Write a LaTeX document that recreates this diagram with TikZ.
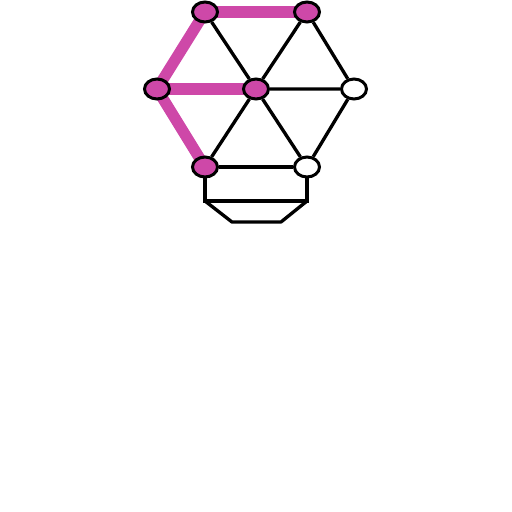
\documentclass[tikz,border=0pt]{standalone}
\usepackage{xcolor}
\usepackage{tikz}
\usetikzlibrary{backgrounds,shapes.geometric}

\definecolor{hilite}{RGB}{206,72,168}

\begin{document}
\begin{tikzpicture}[
    vert/.style={ellipse,draw,line width=1.7pt,minimum width=0.5cm,minimum height=0.4cm,inner sep=0pt},
    on/.style={vert,fill=hilite},
    off/.style={vert,fill=white},
    edge/.style={line width=1.9pt},
    hot/.style={line width=6.4pt,hilite}]
\useasboundingbox (0,0) rectangle (10.24,-10.24);
% the seven vertices
\node[on]  (tl) at (4.10,-0.24) {};
\node[on]  (tr) at (6.14,-0.24) {};
\node[on]  (l)  at (3.14,-1.78) {};
\node[on]  (c)  at (5.12,-1.78) {};
\node[off] (r)  at (7.08,-1.78) {};
\node[on]  (bl) at (4.10,-3.34) {};
\node[off] (br) at (6.14,-3.34) {};
\coordinate (sl) at (4.10,-4.02);
\coordinate (sr) at (6.14,-4.02);
\coordinate (fl) at (4.64,-4.44);
\coordinate (fr) at (5.62,-4.44);
\begin{pgfonlayer}{background}
\draw[hot] (tl.center) -- (tr.center);
\draw[hot] (tl.center) -- (l.center) -- (bl.center);
\draw[hot] (l.center) -- (c.center);
\draw[edge] (tl) -- (c) -- (tr) -- (r) -- (c) -- (bl);
\draw[edge] (c) -- (br) -- (r);
\draw[edge] (bl) -- (br);
\draw[edge] (bl) -- (sl) -- (sr) -- (br);
\draw[edge,line join=round] (sl) -- (fl) -- (fr) -- (sr);
\end{pgfonlayer}
\end{tikzpicture}
\end{document}
